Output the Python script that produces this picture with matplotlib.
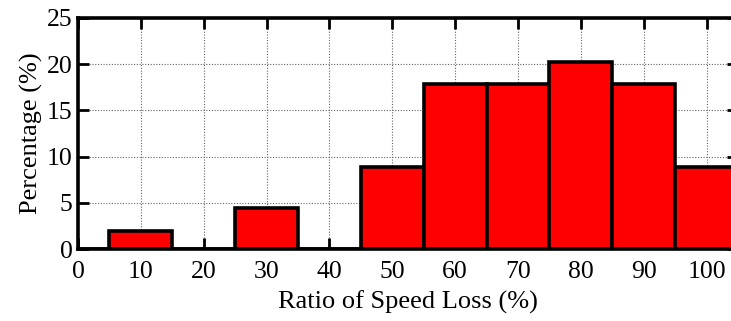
import matplotlib
matplotlib.use("Agg")
import matplotlib.pyplot as plt

plt.rcParams.update({
    "font.family": "Liberation Serif",
    "font.size": 19,
})

# speed-loss bins (bin centres, %) and share of samples in each (%)
bins = [0, 10, 20, 30, 40, 50, 60, 70, 80, 90, 100]
share = [0, 2.0, 0, 4.4, 0, 8.9, 17.9, 17.9, 20.2, 17.9, 8.9]

fig = plt.figure(figsize=(7.31, 3.21), dpi=100)
# axes run past the right edge of the figure, as in the original export
ax = fig.add_axes([78 / 731, 72 / 321, 660 / 731, 231 / 321])

ax.bar(bins, share, width=10, color="#ff0000", edgecolor="black",
       linewidth=2.6, zorder=3)

ax.set_xlim(0, 105)
ax.set_ylim(0, 25)
ax.set_xticks(range(0, 101, 10))
ax.set_yticks(range(0, 26, 5))
ax.grid(True, color="#666666", linestyle=(0, (1, 1.5)), linewidth=0.8, zorder=0)
ax.tick_params(direction="in", length=8, width=2, top=True, right=True,
               labelsize=18.5)
ax.tick_params(axis="x", pad=9)
ax.tick_params(axis="y", pad=4)
for s in ax.spines.values():
    s.set_linewidth(2.6)
    s.set_zorder(4)

ax.set_xlabel("Ratio of Speed Loss (%)", labelpad=5)
ax.set_ylabel("Percentage (%)", labelpad=3)

fig.savefig("out.png", dpi=100, facecolor="white")
